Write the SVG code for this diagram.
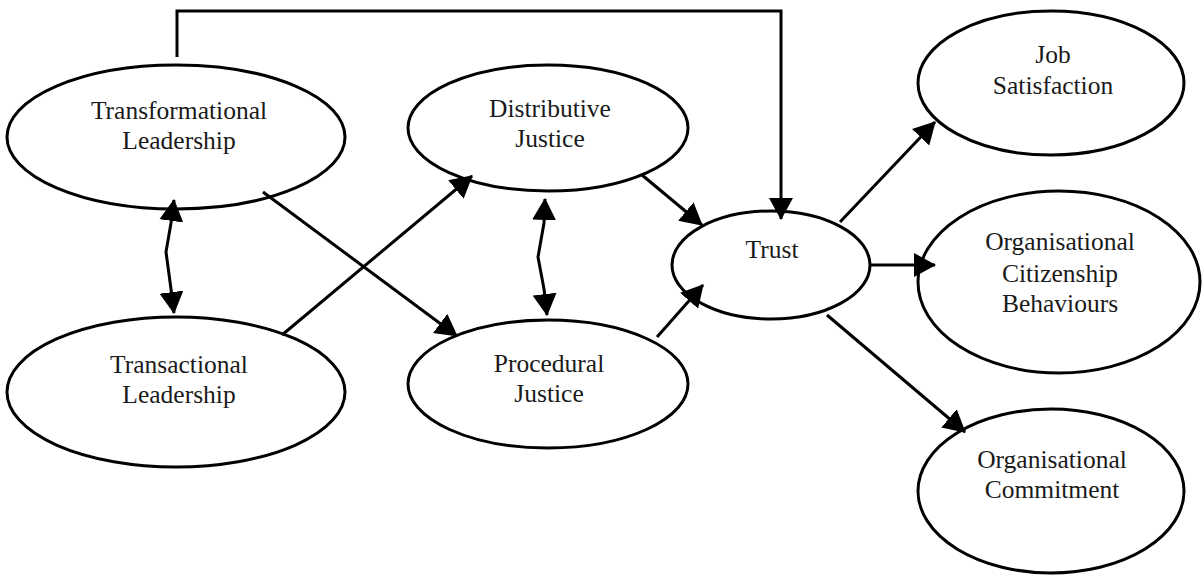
<svg xmlns="http://www.w3.org/2000/svg" width="1203" height="577" viewBox="0 0 1203 577">
  <style>
    .node ellipse { fill: #ffffff; stroke: #000000; stroke-width: 3; }
    .node text { font-family: "Liberation Serif", "Times New Roman", serif; font-size: 25.5px; fill: #1a1a1a; text-anchor: middle; }
    .conn { fill: none; stroke: #000000; stroke-width: 3; }
  </style>
  <defs>
    <marker id="arrow" viewBox="0 0 22 24" refX="21" refY="12" markerWidth="22" markerHeight="24" markerUnits="userSpaceOnUse" orient="auto-start-reverse">
      <path d="M0,0 L22,12 L0,24 Z" fill="#000000"/>
    </marker>
  </defs>
  <rect x="0" y="0" width="1203" height="577" fill="#ffffff"/>

  <g id="transformational" class="node">
    <ellipse cx="176" cy="137" rx="169" ry="72"/>
    <text x="179" y="119">Transformational</text>
    <text x="179" y="149">Leadership</text>
  </g>
  <g id="transactional" class="node">
    <ellipse cx="176" cy="392" rx="169" ry="75"/>
    <text x="179" y="373">Transactional</text>
    <text x="179" y="403">Leadership</text>
  </g>
  <g id="distributive" class="node">
    <ellipse cx="548" cy="128" rx="140" ry="63"/>
    <text x="550" y="117">Distributive</text>
    <text x="550" y="147">Justice</text>
  </g>
  <g id="procedural" class="node">
    <ellipse cx="548" cy="384" rx="140" ry="64"/>
    <text x="549" y="372">Procedural</text>
    <text x="549" y="402">Justice</text>
  </g>
  <g id="trust" class="node">
    <ellipse cx="771" cy="265" rx="99" ry="54"/>
    <text x="772" y="258">Trust</text>
  </g>
  <g id="job-satisfaction" class="node">
    <ellipse cx="1051" cy="83" rx="133" ry="72"/>
    <text x="1053" y="63">Job</text>
    <text x="1053" y="94">Satisfaction</text>
  </g>
  <g id="ocb" class="node">
    <ellipse cx="1059" cy="282" rx="141" ry="91"/>
    <text x="1060" y="250">Organisational</text>
    <text x="1060" y="282">Citizenship</text>
    <text x="1060" y="312">Behaviours</text>
  </g>
  <g id="commitment" class="node">
    <ellipse cx="1051" cy="491" rx="133" ry="82"/>
    <text x="1052" y="468">Organisational</text>
    <text x="1052" y="498">Commitment</text>
  </g>

  <g id="connectors">
    <polyline class="conn" points="177,57 177,11 781,11 781,219" marker-end="url(#arrow)"/>
    <line class="conn" x1="263" y1="192" x2="457" y2="336" marker-end="url(#arrow)"/>
    <line class="conn" x1="282" y1="335" x2="472" y2="176" marker-end="url(#arrow)"/>
    <line class="conn" x1="642" y1="175" x2="702" y2="225" marker-end="url(#arrow)"/>
    <line class="conn" x1="657" y1="337" x2="703" y2="285" marker-end="url(#arrow)"/>
    <line class="conn" x1="840" y1="222" x2="935" y2="122" marker-end="url(#arrow)"/>
    <line class="conn" x1="870" y1="265" x2="935" y2="265" marker-end="url(#arrow)"/>
    <line class="conn" x1="827" y1="315" x2="965" y2="432" marker-end="url(#arrow)"/>
    <polyline class="conn" points="174,200 171,223 166,252 171,289 174,313" marker-start="url(#arrow)" marker-end="url(#arrow)"/>
    <polyline class="conn" points="545,199 544,223 538,257 544,289 547,315" marker-start="url(#arrow)" marker-end="url(#arrow)"/>
  </g>
</svg>
